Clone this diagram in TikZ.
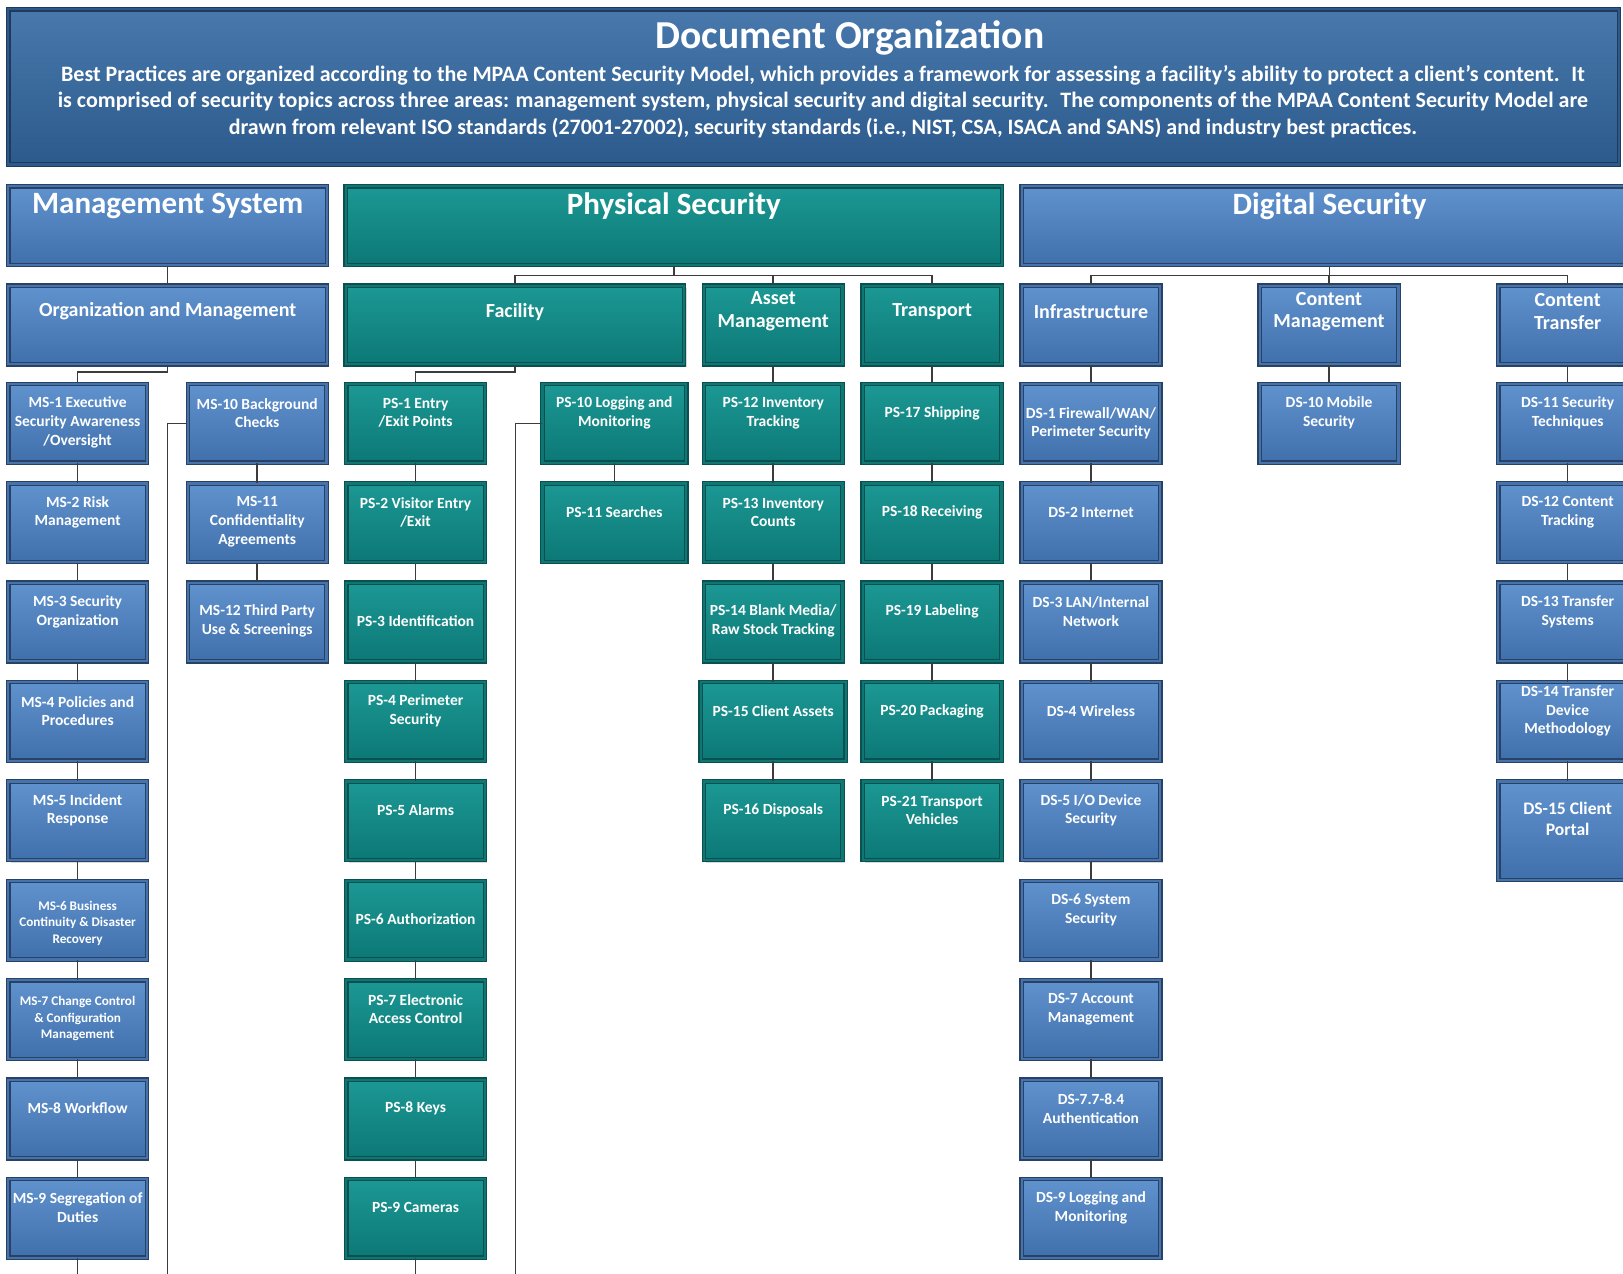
\documentclass[tikz,border=0pt]{standalone}
\usepackage{fontspec}
\setmainfont{Carlito}
\usetikzlibrary{shadows}

\definecolor{mstop}{RGB}{96,146,206}
\definecolor{msbot}{RGB}{64,112,172}
\definecolor{msdark}{RGB}{40,66,102}
\definecolor{msmid}{RGB}{70,115,172}
\definecolor{pstop}{RGB}{28,152,148}
\definecolor{psbot}{RGB}{12,120,118}
\definecolor{psdark}{RGB}{9,80,80}
\definecolor{psmid}{RGB}{16,118,116}
\definecolor{hdtop}{RGB}{72,120,172}
\definecolor{hdbot}{RGB}{44,90,140}
\definecolor{hddark}{RGB}{32,58,92}
\definecolor{wirecol}{RGB}{60,60,60}

\tikzset{
  card/.style={rectangle, inner sep=0pt, minimum width=69.35pt, minimum height=39.3pt,
    line width=0.6pt, double distance=1.1pt,
    drop shadow={opacity=0.3, shadow xshift=1.2pt, shadow yshift=-1.2pt}},
  msbox/.style={card, draw=msdark, double=msmid, top color=mstop, bottom color=msbot},
  psbox/.style={card, draw=psdark, double=psmid, top color=pstop, bottom color=psbot},
  hdbox/.style={card, draw=hddark, double=hdbot, top color=hdtop, bottom color=hdbot},
  wire/.style={draw=wirecol, line width=0.75pt},
  plaintext/.style={text=white, align=center, inner sep=0pt},
  boxtext/.style={plaintext, yshift=5.2pt, font=\bfseries\fontsize{7.75}{9.3}\selectfont},
  tinytext/.style={boxtext, font=\bfseries\fontsize{6.6}{8.3}\selectfont},
  midtext/.style={plaintext, font=\bfseries\fontsize{10}{11.4}\selectfont},
  bigtext/.style={plaintext, font=\bfseries\fontsize{15.5}{18}\selectfont},
  titletext/.style={plaintext, font=\bfseries\fontsize{19.8}{23}\selectfont},
  bodytext/.style={plaintext, font=\bfseries\fontsize{11}{13.2}\selectfont}
}

\begin{document}
\begin{tikzpicture}[x=0.5175pt, y=-0.5175pt]
  \path[use as bounding box] (0,0) rectangle (1568,1230);
  \clip (0,0) rectangle (1568,1230);
  %%% header
  \node[hdbox, minimum width=805.2pt, minimum height=77.6pt] (header) at (786,84) {};
  %%% three areas
  \node[msbox, minimum width=159.4pt] (ms) at (162,218) {};
  \node[psbox, minimum width=328.1pt] (ps) at (651,218) {};
  \node[msbox, minimum width=307.9pt] (ds) at (1284.5,218) {};
  %%% topics
  \node[msbox, minimum width=159.4pt] (om) at (162,314) {};
  \node[psbox, minimum width=169.2pt] (fac) at (497.5,314) {};
  \node[psbox] (asset) at (747,314) {};
  \node[psbox] (trans) at (900.5,314) {};
  \node[msbox] (infra) at (1054,314) {};
  \node[msbox] (cm) at (1284,314) {};
  \node[msbox] (ct) at (1514.5,314) {};
  %%% management system
  \node[msbox] (ms1) at (75,409) {};    \node[msbox] (ms10) at (248.5,409) {};
  \node[msbox] (ms2) at (75,505) {};    \node[msbox] (ms11) at (248.5,505) {};
  \node[msbox] (ms3) at (75,601) {};    \node[msbox] (ms12) at (248.5,601) {};
  \node[msbox] (ms4) at (75,697) {};
  \node[msbox] (ms5) at (75,793) {};
  \node[msbox] (ms6) at (75,889) {};
  \node[msbox] (ms7) at (75,985) {};
  \node[msbox] (ms8) at (75,1081) {};
  \node[msbox] (ms9) at (75,1177) {};
  %%% physical security
  \node[psbox] (ps1) at (401.5,409) {};  \node[psbox, minimum width=71.9pt] (ps10) at (593.5,409) {};
  \node[psbox] (ps2) at (401.5,505) {};  \node[psbox, minimum width=71.9pt] (ps11) at (593.5,505) {};
  \node[psbox] (ps3) at (401.5,601) {};
  \node[psbox] (ps4) at (401.5,697) {};
  \node[psbox] (ps5) at (401.5,793) {};
  \node[psbox] (ps6) at (401.5,889) {};
  \node[psbox] (ps7) at (401.5,985) {};
  \node[psbox] (ps8) at (401.5,1081) {};
  \node[psbox] (ps9) at (401.5,1177) {};
  \node[psbox] (ps12) at (747,409) {};   \node[psbox] (ps17) at (900.5,409) {};
  \node[psbox] (ps13) at (747,505) {};   \node[psbox] (ps18) at (900.5,505) {};
  \node[psbox] (ps14) at (747,601) {};   \node[psbox] (ps19) at (900.5,601) {};
  \node[psbox, minimum width=72.5pt] (ps15) at (747,697) {};
  \node[psbox] (ps20) at (900.5,697) {};
  \node[psbox] (ps16) at (747,793) {};   \node[psbox] (ps21) at (900.5,793) {};
  %%% digital security
  \node[msbox] (ds1) at (1054,409) {};   \node[msbox] (ds10) at (1284,409) {};
  \node[msbox] (ds2) at (1054,505) {};   \node[msbox] (ds11) at (1514.5,409) {};
  \node[msbox] (ds3) at (1054,601) {};   \node[msbox] (ds12) at (1514.5,505) {};
  \node[msbox] (ds4) at (1054,697) {};   \node[msbox] (ds13) at (1514.5,601) {};
  \node[msbox] (ds5) at (1054,793) {};   \node[msbox] (ds14) at (1514.5,697) {};
  \node[msbox] (ds6) at (1054,889) {};
  \node[msbox, minimum height=49.2pt] (ds15) at (1514.5,802.5) {};
  \node[msbox] (ds7) at (1054,985) {};
  \node[msbox] (ds78) at (1054,1081) {};
  \node[msbox] (ds9) at (1054,1177) {};
  %%% loose ends
  \path (651,266) coordinate (psbus);
  \path (1284.5,266) coordinate (dsbus);
  \path (162,1240) coordinate (msend);
  \path (75,1240) coordinate (ms9end);
  \path (498,1240) coordinate (psend);
  \path (401.5,1240) coordinate (ps9end);
  %%% Edges:
  \draw[wire] (ms.south) -- (om.north);
  \draw[wire] (om.south) -- ++(0,7) -| (ms1.north);
  \draw[wire] (ms10.west) -| (msend);
  \draw[wire] (ms1.south) -- (ms2.north);  \draw[wire] (ms2.south) -- (ms3.north);
  \draw[wire] (ms3.south) -- (ms4.north);  \draw[wire] (ms4.south) -- (ms5.north);
  \draw[wire] (ms5.south) -- (ms6.north);  \draw[wire] (ms6.south) -- (ms7.north);
  \draw[wire] (ms7.south) -- (ms8.north);  \draw[wire] (ms8.south) -- (ms9.north);
  \draw[wire] (ms9.south) -- (ms9end);
  \draw[wire] (ms10.south) -- (ms11.north); \draw[wire] (ms11.south) -- (ms12.north);
  %%%
  \draw[wire] (ps.south) -- (psbus);
  \draw[wire] (psbus) -| (fac.north);
  \draw[wire] (psbus) -| (asset.north);
  \draw[wire] (psbus) -| (trans.north);
  \draw[wire] (fac.south) -- ++(0,7) -| (ps1.north);
  \draw[wire] (ps10.west) -| (psend);
  \draw[wire] (ps1.south) -- (ps2.north);  \draw[wire] (ps2.south) -- (ps3.north);
  \draw[wire] (ps3.south) -- (ps4.north);  \draw[wire] (ps4.south) -- (ps5.north);
  \draw[wire] (ps5.south) -- (ps6.north);  \draw[wire] (ps6.south) -- (ps7.north);
  \draw[wire] (ps7.south) -- (ps8.north);  \draw[wire] (ps8.south) -- (ps9.north);
  \draw[wire] (ps9.south) -- (ps9end);
  \draw[wire] (ps10.south) -- (ps11.north);
  \draw[wire] (asset.south) -- (ps12.north); \draw[wire] (ps12.south) -- (ps13.north);
  \draw[wire] (ps13.south) -- (ps14.north);  \draw[wire] (ps14.south) -- (ps15.north);
  \draw[wire] (ps15.south) -- (ps16.north);
  \draw[wire] (trans.south) -- (ps17.north); \draw[wire] (ps17.south) -- (ps18.north);
  \draw[wire] (ps18.south) -- (ps19.north);  \draw[wire] (ps19.south) -- (ps20.north);
  \draw[wire] (ps20.south) -- (ps21.north);
  %%%
  \draw[wire] (ds.south) -- (dsbus);
  \draw[wire] (dsbus) -| (infra.north);
  \draw[wire] (dsbus) -| (cm.north);
  \draw[wire] (dsbus) -| (ct.north);
  \draw[wire] (infra.south) -- (ds1.north); \draw[wire] (ds1.south) -- (ds2.north);
  \draw[wire] (ds2.south) -- (ds3.north);   \draw[wire] (ds3.south) -- (ds4.north);
  \draw[wire] (ds4.south) -- (ds5.north);   \draw[wire] (ds5.south) -- (ds6.north);
  \draw[wire] (ds6.south) -- (ds7.north);   \draw[wire] (ds7.south) -- (ds78.north);
  \draw[wire] (ds78.south) -- (ds9.north);
  \draw[wire] (cm.south) -- (ds10.north);
  \draw[wire] (ct.south) -- (ds11.north);   \draw[wire] (ds11.south) -- (ds12.north);
  \draw[wire] (ds12.south) -- (ds13.north); \draw[wire] (ds13.south) -- (ds14.north);
  \draw[wire] (ds14.south) -- (ds15.north);
  %%% text
  \node[titletext] (title) at (821,37) {Document Organization};
  \node[bodytext] (intro) at (795,98) {Best Practices are organized according to the MPAA Content Security Model, which provides a framework for assessing a facility’s ability to protect a client’s content.~ It\\is comprised of security topics across three areas: management system, physical security and digital security.~ The components of the MPAA Content Security Model are\\drawn from relevant ISO standards (27001-27002), security standards (i.e., NIST, CSA, ISACA and SANS) and industry best practices.};
  \node[bigtext] (mst) at (162,199) {Management System};
  \node[bigtext] (pst) at (651,199) {Physical Security};
  \node[bigtext] (dst) at (1284.5,199) {Digital Security};
  \node[midtext] (omt) at (162,301) {Organization and Management};
  \node[midtext] (fact) at (497.5,301) {Facility};
  \node[midtext] (assett) at (747,301) {Asset\\Management};
  \node[midtext] (transt) at (900.5,301) {Transport};
  \node[midtext] (infrat) at (1054,301) {Infrastructure};
  \node[midtext] (cmt) at (1284,301) {Content\\Management};
  \node[midtext] (ctt) at (1514.5,301) {Content\\Transfer};
  %%%
  \node[boxtext, yshift=-4.7pt] (ms1t) at (ms1) {MS-1 Executive\\Security Awareness\\/Oversight};
  \node[boxtext] (ms2t) at (ms2) {MS-2 Risk\\Management};
  \node[boxtext] (ms3t) at (ms3) {MS-3 Security\\Organization};
  \node[boxtext] (ms4t) at (ms4) {MS-4 Policies and\\Procedures};
  \node[boxtext] (ms5t) at (ms5) {MS-5 Incident\\Response};
  \node[tinytext, yshift=-6.7pt] (ms6t) at (ms6) {MS-6 Business\\Continuity \& Disaster\\Recovery};
  \node[tinytext, yshift=-4.7pt] (ms7t) at (ms7) {MS-7 Change Control\\\& Configuration\\Management};
  \node[boxtext] (ms8t) at (ms8) {MS-8 Workflow};
  \node[boxtext] (ms9t) at (ms9) {MS-9 Segregation of\\Duties};
  \node[boxtext] (ms10t) at (ms10) {MS-10 Background\\Checks};
  \node[boxtext, yshift=-4.7pt] (ms11t) at (ms11) {MS-11\\Confidentiality\\Agreements};
  \node[boxtext, yshift=-4.7pt] (ms12t) at (ms12) {MS-12 Third Party\\Use \& Screenings};
  %%%
  \node[boxtext] (ps1t) at (ps1) {PS-1 Entry\\/Exit Points};
  \node[boxtext] (ps2t) at (ps2) {PS-2 Visitor Entry\\/Exit};
  \node[boxtext, yshift=-4.7pt] (ps3t) at (ps3) {PS-3 Identification};
  \node[boxtext] (ps4t) at (ps4) {PS-4 Perimeter\\Security};
  \node[boxtext] (ps5t) at (ps5) {PS-5 Alarms};
  \node[boxtext, yshift=-4.7pt] (ps6t) at (ps6) {PS-6 Authorization};
  \node[boxtext] (ps7t) at (ps7) {PS-7 Electronic\\Access Control};
  \node[boxtext] (ps8t) at (ps8) {PS-8 Keys};
  \node[boxtext] (ps9t) at (ps9) {PS-9 Cameras};
  \node[boxtext] (ps10t) at (ps10) {PS-10 Logging and\\Monitoring};
  \node[boxtext] (ps11t) at (ps11) {PS-11 Searches};
  \node[boxtext] (ps12t) at (ps12) {PS-12 Inventory\\Tracking};
  \node[boxtext] (ps13t) at (ps13) {PS-13 Inventory\\Counts};
  \node[boxtext, yshift=-4.7pt] (ps14t) at (ps14) {PS-14 Blank Media/\\Raw Stock Tracking};
  \node[boxtext] (ps15t) at (ps15) {PS-15 Client Assets};
  \node[boxtext] (ps16t) at (ps16) {PS-16 Disposals};
  \node[boxtext] (ps17t) at (ps17) {PS-17 Shipping};
  \node[boxtext] (ps18t) at (ps18) {PS-18 Receiving};
  \node[boxtext] (ps19t) at (ps19) {PS-19 Labeling};
  \node[boxtext] (ps20t) at (ps20) {PS-20 Packaging};
  \node[boxtext] (ps21t) at (ps21) {PS-21 Transport\\Vehicles};
  %%%
  \node[boxtext, yshift=-5.2pt] (ds1t) at (ds1) {DS-1 Firewall/WAN/\\Perimeter Security};
  \node[boxtext] (ds2t) at (ds2) {DS-2 Internet};
  \node[boxtext] (ds3t) at (ds3) {DS-3 LAN/Internal\\Network};
  \node[boxtext] (ds4t) at (ds4) {DS-4 Wireless};
  \node[boxtext] (ds5t) at (ds5) {DS-5 I/O Device\\Security};
  \node[boxtext] (ds6t) at (ds6) {DS-6 System\\Security};
  \node[boxtext] (ds7t) at (ds7) {DS-7 Account\\Management};
  \node[boxtext] (ds78t) at (ds78) {DS-7.7-8.4\\Authentication};
  \node[boxtext] (ds9t) at (ds9) {DS-9 Logging and\\Monitoring};
  \node[boxtext] (ds10t) at (ds10) {DS-10 Mobile\\Security};
  \node[boxtext] (ds11t) at (ds11) {DS-11 Security\\Techniques};
  \node[boxtext] (ds12t) at (ds12) {DS-12 Content\\Tracking};
  \node[boxtext] (ds13t) at (ds13) {DS-13 Transfer\\Systems};
  \node[boxtext] (ds14t) at (ds14) {DS-14 Transfer\\Device\\Methodology};
  \node[boxtext, yshift=0.8pt, font=\bfseries\fontsize{8.8}{10.4}\selectfont] (ds15t) at (ds15) {DS-15 Client\\Portal};
\end{tikzpicture}
\end{document}
